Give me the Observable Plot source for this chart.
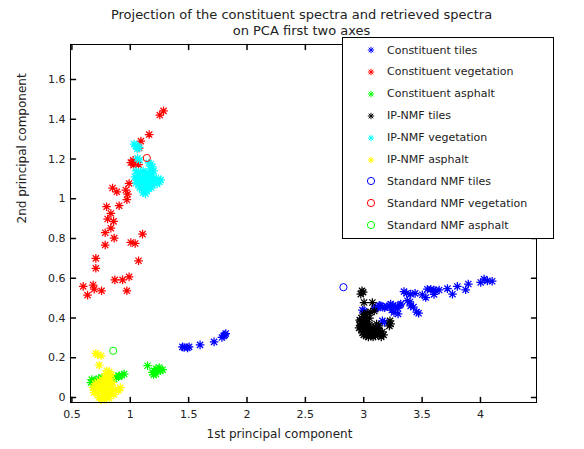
<!DOCTYPE html>
<html>
<head>
<meta charset="utf-8">
<script src="https://cdn.jsdelivr.net/npm/d3@7"></script>
<script src="https://cdn.jsdelivr.net/npm/@observablehq/plot@0.6"></script>
<style>
  html, body { margin: 0; padding: 0; background: #fff; }
  #wrap { position: relative; width: 584px; height: 449px; font-family: "DejaVu Sans", sans-serif; }
  #legend { position: absolute; left: 342px; top: 37px; width: 212px; height: 202px; border: 1px solid #000; background: #fff; box-sizing: border-box; }
  .row { position: absolute; left: 0; height: 16px; display: flex; align-items: center; font-size: 11px; color: #222; white-space: nowrap; }
  .row svg { position: absolute; left: 22px; }
  .row span { position: absolute; left: 44px; }
</style>
</head>
<body>
<div id="wrap"><div id="chart"></div><div id="legend"></div></div>
<script>
const titleText = "Projection of the constituent spectra and retrieved spectra\non PCA first two axes";
const xLabel = "1st principal component";
const yLabel = "2nd principal component";
const xTicks = [0.5, 1, 1.5, 2, 2.5, 3, 3.5, 4];
const xTickLabels = ["0.5", "1", "1.5", "2", "2.5", "3", "3.5", "4"];
const yTicks = [0, 0.2, 0.4, 0.6, 0.8, 1, 1.2, 1.4, 1.6];
const yTickLabels = ["0", "0.2", "0.4", "0.6", "0.8", "1", "1.2", "1.4", "1.6"];

const seriesNames = ["Constituent tiles", "Constituent vegetation", "Constituent asphalt",
  "IP-NMF tiles", "IP-NMF vegetation", "IP-NMF asphalt",
  "Standard NMF tiles", "Standard NMF vegetation", "Standard NMF asphalt"];
const seriesColors = ["#0000ff", "#ff0000", "#00ff00", "#000000", "#00ffff", "#ffff00", "#0000ff", "#ff0000", "#00ff00"];
const seriesMarkers = ["star", "star", "star", "star", "star", "star", "circle", "circle", "circle"];

const constituentTiles = [
  [1.447,0.255],[1.461,0.252],[1.49,0.25],[1.504,0.255],[1.598,0.265],[1.718,0.28],[1.785,0.302],[1.80,0.31],[1.818,0.322],[1.81,0.315],
  [2.989,0.44],[3.002,0.435],[3.09,0.447],[3.103,0.453],[3.133,0.464],[3.146,0.461],[3.163,0.455],[3.16,0.386],[3.178,0.378],
  [3.12,0.45],[3.18,0.452],[3.2,0.458],[3.22,0.46],[3.27,0.455],[3.29,0.45],[3.24,0.44],
  [3.231,0.47],[3.25,0.464],[3.259,0.428],[3.294,0.421],[3.309,0.464],[3.317,0.47],[3.345,0.533],[3.367,0.524],[3.374,0.487],
  [3.396,0.481],[3.402,0.52],[3.402,0.461],[3.426,0.455],[3.44,0.524],[3.454,0.43],[3.47,0.424],[3.502,0.517],[3.531,0.503],
  [3.545,0.545],[3.574,0.545],[3.602,0.541],[3.617,0.537],[3.602,0.519],[3.646,0.541],[3.717,0.548],[3.76,0.52],[3.802,0.559],
  [3.873,0.542],[3.896,0.571],[4.002,0.579],[4.031,0.596],[4.059,0.587],[4.10,0.585]
];
const constituentVegetation = [
  [1.285,1.442],[1.253,1.421],[1.162,1.323],[1.091,1.29],[1.076,1.255],[1.025,1.194],[1.005,1.182],[1.028,1.169],[1.071,1.172],
  [0.99,1.077],[0.848,1.054],[0.885,1.035],[0.962,1.044],[0.977,1.023],[0.971,0.995],[0.797,0.96],[0.905,0.965],
  [0.834,0.926],[0.806,0.898],[0.857,0.886],[0.834,0.852],[0.785,0.829],[0.862,0.802],[1.105,0.822],[1.005,0.78],[1.042,0.775],
  [0.785,0.767],[0.705,0.70],[0.705,0.65],[1.071,0.688],[0.868,0.592],[0.934,0.592],[0.99,0.607],[0.597,0.559],[0.682,0.566],
  [0.691,0.545],[0.754,0.537],[0.634,0.515],[0.971,0.537]
];
const constituentAsphalt = [
  [0.663,0.075],[0.67,0.09],[0.69,0.075],[0.70,0.085],[0.73,0.095],[0.76,0.10],[0.80,0.095],[0.84,0.10],[0.862,0.093],[0.877,0.104],
  [0.90,0.105],[0.905,0.109],[0.93,0.112],[0.948,0.118],
  [1.148,0.16],[1.19,0.126],[1.205,0.134],[1.22,0.145],[1.24,0.14],[1.248,0.151],[1.26,0.135],[1.277,0.14],[1.219,0.118],[1.20,0.115]
];
const ipnmfTiles = [
  [2.985,0.537],[2.975,0.52],[2.995,0.53],[3.003,0.478],[3.074,0.478],
  [3.0,0.42],[3.03,0.425],[3.06,0.43],[3.09,0.435],[2.98,0.40],[3.0,0.405],[3.02,0.41],[3.05,0.40],[2.97,0.38],[2.99,0.385],
  [3.01,0.39],[3.03,0.38],[2.97,0.36],[2.99,0.365],[3.01,0.37],[3.03,0.36],[3.05,0.365],[2.98,0.34],[3.0,0.345],[3.02,0.35],
  [3.04,0.34],[3.06,0.345],[3.08,0.35],[3.10,0.355],[2.99,0.325],[3.01,0.33],[3.03,0.32],[3.05,0.325],[3.07,0.33],[3.09,0.325],
  [3.11,0.335],[3.13,0.34],[3.02,0.31],[3.04,0.305],[3.06,0.31],[3.08,0.305],[3.10,0.31],[3.12,0.315],[3.14,0.32],[3.11,0.37],
  [3.13,0.36],[3.225,0.386],[3.23,0.37],[3.22,0.36],[3.16,0.33],[3.17,0.315],[3.15,0.305],[3.0,0.315],[2.96,0.35],[2.965,0.39]
];
const ipnmfVegetation = [
  [1.033,1.275],[1.048,1.266],[1.062,1.262],[1.076,1.258],[1.06,1.25],[1.062,1.203],[1.08,1.195],
  [1.16,1.18],[1.176,1.174],[1.19,1.16],[1.17,1.15],[1.2,1.14],
  [1.05,1.14],[1.07,1.13],[1.09,1.135],[1.11,1.14],[1.13,1.13],[1.15,1.12],[1.17,1.125],[1.19,1.12],
  [1.04,1.11],[1.06,1.10],[1.08,1.105],[1.10,1.11],[1.12,1.10],[1.14,1.09],[1.16,1.10],[1.18,1.095],[1.20,1.10],
  [1.05,1.08],[1.07,1.075],[1.09,1.085],[1.11,1.08],[1.13,1.07],[1.15,1.065],[1.17,1.075],[1.19,1.07],
  [1.08,1.055],[1.10,1.05],[1.12,1.045],[1.14,1.04],[1.16,1.05],[1.18,1.055],[1.11,1.03],[1.13,1.025],
  [1.24,1.10],[1.25,1.085],[1.26,1.095],[1.23,1.075]
];
const ipnmfAsphalt = [
  [0.705,0.222],[0.75,0.21],[0.72,0.215],[0.734,0.163],
  [0.80,0.135],[0.82,0.13],[0.79,0.12],[0.81,0.11],[0.84,0.115],[0.78,0.10],[0.76,0.09],[0.80,0.09],[0.83,0.095],
  [0.70,0.07],[0.72,0.075],[0.74,0.08],[0.77,0.07],[0.79,0.065],[0.82,0.07],[0.85,0.075],
  [0.68,0.05],[0.70,0.045],[0.73,0.05],[0.75,0.055],[0.78,0.045],[0.81,0.05],[0.84,0.045],[0.87,0.04],[0.915,0.05],[0.90,0.035],
  [0.69,0.025],[0.72,0.02],[0.75,0.03],[0.77,0.02],[0.80,0.025],[0.83,0.02],[0.86,0.015],
  [0.73,0.0],[0.76,-0.005],[0.79,0.005],[0.82,-0.005],[0.75,-0.012],[0.78,-0.01]
];
const standardTiles = [[2.826,0.555]];
const standardVegetation = [[1.142,1.205]];
const standardAsphalt = [[0.854,0.235]];

const seriesData = [constituentTiles, constituentVegetation, constituentAsphalt,
  ipnmfTiles, ipnmfVegetation, ipnmfAsphalt, standardTiles, standardVegetation, standardAsphalt];

const star = {
  draw(ctx, size) {
    const r = Math.sqrt(size / Math.PI), d = r * 0.72;
    ctx.moveTo(-r, 0); ctx.lineTo(r, 0);
    ctx.moveTo(0, -r); ctx.lineTo(0, r);
    ctx.moveTo(-d, -d); ctx.lineTo(d, d);
    ctx.moveTo(-d, d); ctx.lineTo(d, -d);
  }
};
const tickShape = { draw(ctx, l) { ctx.moveTo(0, 0); ctx.lineTo(0, -l); } };

const dotMarks = seriesData.map((data, i) => Plot.dot(data, {
  x: d => d[0], y: d => d[1],
  symbol: seriesMarkers[i] === "star" ? star : "circle",
  r: seriesMarkers[i] === "star" ? 4.3 : 3.6,
  fill: "none", stroke: seriesColors[i], strokeWidth: seriesMarkers[i] === "star" ? 1.25 : 1
}));

const tickLen = 5;
const chart = Plot.plot({
  width: 584, height: 449,
  marginLeft: 70, marginRight: 48, marginTop: 44, marginBottom: 47,
  style: { fontFamily: "DejaVu Sans, sans-serif", background: "#fff", color: "#222" },
  x: { domain: [0.488, 4.48] },
  y: { domain: [-0.025, 1.776] },
  marks: [
    ...dotMarks,
    Plot.frame({ stroke: "#000", strokeWidth: 1 }),
    Plot.vector(xTicks, { x: d => d, frameAnchor: "bottom", length: tickLen, rotate: 0, anchor: "start", shape: tickShape, stroke: "#000" }),
    Plot.vector(xTicks, { x: d => d, frameAnchor: "top", length: tickLen, rotate: 180, anchor: "start", shape: tickShape, stroke: "#000" }),
    Plot.vector(yTicks, { y: d => d, frameAnchor: "left", length: tickLen, rotate: 90, anchor: "start", shape: tickShape, stroke: "#000" }),
    Plot.vector(yTicks, { y: d => d, frameAnchor: "right", length: tickLen, rotate: -90, anchor: "start", shape: tickShape, stroke: "#000" }),
    Plot.axisX({ ticks: xTicks, tickSize: 0, tickPadding: 8, tickFormat: d => xTickLabels[xTicks.indexOf(d)], fontSize: 11, label: null }),
    Plot.axisY({ ticks: yTicks, tickSize: 0, tickPadding: 5, tickFormat: d => yTickLabels[yTicks.indexOf(d)], fontSize: 11, label: null }),
    Plot.text([titleText], { text: d => d, frameAnchor: "top", lineAnchor: "middle", dy: -22.5, dx: -2, fontSize: 13, lineHeight: 1.25, fill: "#222" }),
    Plot.text([xLabel], { text: d => d, frameAnchor: "bottom", dy: 35, dx: -24, fontSize: 12, fill: "#222" }),
    Plot.text([yLabel], { text: d => d, frameAnchor: "left", dx: -48, rotate: -90, fontSize: 12, fill: "#222" })
  ]
});
document.getElementById("chart").appendChild(chart);

// legend
const legend = d3.select("#legend");
seriesNames.forEach((name, i) => {
  const row = legend.append("div").attr("class", "row").style("top", (4 + i * 21.9) + "px").style("width", "210px");
  const svg = row.append("svg").attr("width", 12).attr("height", 12).attr("viewBox", "-6 -6 12 12");
  const path = seriesMarkers[i] === "star" ? d3.symbol(star, Math.PI * 3.2 * 3.2)() : d3.symbol(d3.symbolCircle, Math.PI * 3.6 * 3.6)();
  svg.append("path").attr("d", path).attr("fill", "none").attr("stroke", seriesColors[i]).attr("stroke-width", 1);
  row.append("span").text(name);
});
</script>
</body>
</html>
